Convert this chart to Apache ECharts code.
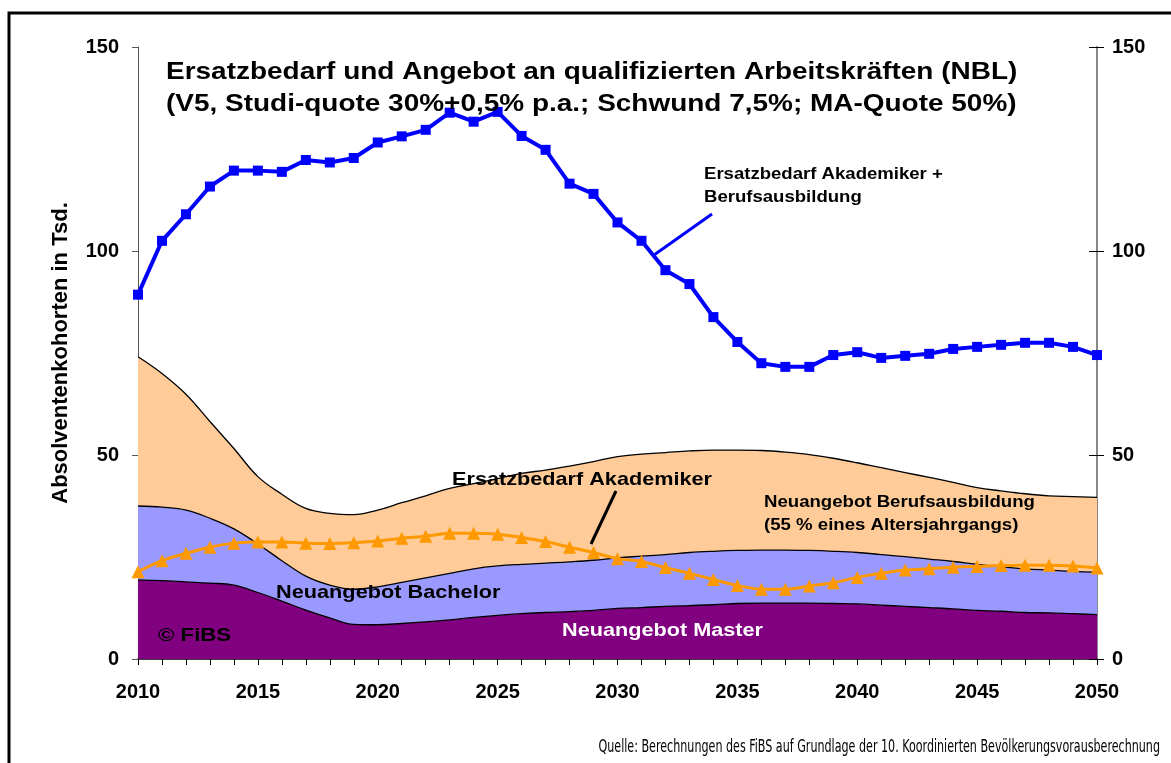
<!DOCTYPE html>
<html>
<head>
<meta charset="utf-8">
<script src="https://cdn.jsdelivr.net/npm/echarts@6/dist/echarts.min.js"></script>
<style>
  html, body { margin: 0; padding: 0; background: #fff; }
  #chart { width: 1171px; height: 763px; }
</style>
</head>
<body>
<div id="chart"></div>
<script>
// Jahre
const years = ['2010','2011','2012','2013','2014','2015','2016','2017','2018','2019',
  '2020','2021','2022','2023','2024','2025','2026','2027','2028','2029',
  '2030','2031','2032','2033','2034','2035','2036','2037','2038','2039',
  '2040','2041','2042','2043','2044','2045','2046','2047','2048','2049','2050'];

// Neuangebot Master (unterste Fläche)
const master = [19.4, 19.2, 18.9, 18.6, 18.1, 16.3, 14.2, 12.0, 10.1, 8.5,
  8.4, 8.7, 9.1, 9.6, 10.2, 10.7, 11.1, 11.4, 11.6, 11.9,
  12.4, 12.6, 12.9, 13.1, 13.3, 13.6, 13.7, 13.7, 13.7, 13.6,
  13.5, 13.2, 12.9, 12.6, 12.3, 11.9, 11.7, 11.4, 11.3, 11.1, 10.9];

// Neuangebot Bachelor (gestapelt)
const bachelor = [18.1, 18.0, 17.6, 15.9, 13.8, 11.9, 9.9, 8.3, 8.0, 8.6,
  9.3, 10.1, 10.8, 11.4, 11.9, 12.1, 12.1, 12.1, 12.2, 12.3,
  12.4, 12.6, 12.7, 13.0, 13.1, 13.0, 13.0, 13.0, 12.9, 12.8,
  12.6, 12.4, 12.2, 11.9, 11.6, 11.3, 10.9, 10.7, 10.5, 10.4, 10.4];

// Neuangebot Berufsausbildung (gestapelt)
const berufsausbildung = [36.6, 32.8, 28.4, 23.7, 19.7, 16.5, 16.3, 16.6, 17.6, 18.3,
  18.8, 19.5, 20.1, 20.8, 20.9, 21.4, 22.3, 22.8, 23.5, 24.2,
  24.8, 25.0, 25.0, 24.9, 24.8, 24.6, 24.4, 24.0, 23.5, 22.8,
  22.0, 21.3, 20.6, 20.0, 19.4, 18.8, 18.6, 18.4, 18.2, 18.3, 18.3];

// Ersatzbedarf Akademiker
const ersatzAkademiker = [21.4, 24.1, 25.9, 27.4, 28.4, 28.7, 28.7, 28.4, 28.3, 28.5,
  28.9, 29.6, 30.1, 30.8, 30.8, 30.6, 29.8, 28.8, 27.4, 26.1,
  24.6, 23.9, 22.4, 21.0, 19.5, 18.0, 17.1, 17.1, 17.9, 18.7,
  20.0, 21.0, 21.8, 22.1, 22.5, 22.7, 22.9, 23.0, 23.0, 22.8, 22.3];

// Ersatzbedarf Akademiker + Berufsausbildung
const ersatzGesamt = [89.3, 102.5, 109.0, 115.8, 119.7, 119.7, 119.4, 122.3, 121.7, 122.8,
  126.6, 128.1, 129.7, 133.9, 131.7, 134.1, 128.2, 124.8, 116.5, 114.0,
  107.0, 102.5, 95.3, 91.9, 83.8, 77.7, 72.5, 71.6, 71.6, 74.5,
  75.2, 73.8, 74.3, 74.8, 76.0, 76.5, 77.0, 77.5, 77.5, 76.5, 74.5];

const yTicks = [0, 50, 100, 150];

const FONT = '"Liberation Sans", Arial, sans-serif';
const tickLabel = { fontFamily: FONT, fontWeight: 'bold', fontSize: 20, color: '#000' };

const chart = echarts.init(document.getElementById('chart'));

const areaSeries = (name, data, color) => ({
  name: name,
  type: 'line',
  stack: 'angebot',
  data: data,
  smooth: 0.4,
  showSymbol: false,
  symbol: 'none',
  lineStyle: { color: '#000', width: 1.3 },
  areaStyle: { color: color, opacity: 1 },
  z: 2
});

// Texte im Bild sind in der Vorlage etwas breit gezogen -> scaleX
const txt = (x, y, text, size, sx, color, extra) => ({
  type: 'text', x: x, y: y, z: 20, scaleX: sx,
  style: Object.assign({
    text: text, fill: color || '#000', fontFamily: FONT, fontWeight: 'bold',
    fontSize: size, textVerticalAlign: 'middle'
  }, extra || {})
});

const option = {
  animation: false,
  backgroundColor: '#fff',
  grid: { left: 138, right: 74, top: 47, bottom: 104 },
  xAxis: {
    type: 'category',
    data: years,
    boundaryGap: false,
    axisLine: { lineStyle: { color: '#000', width: 1.5 } },
    axisTick: { show: true, interval: 0, length: 6, lineStyle: { color: '#000' } },
    axisLabel: Object.assign({ interval: 4, margin: 23 }, tickLabel),
    splitLine: { show: false }
  },
  yAxis: [
    {
      type: 'value', min: 0, max: yTicks[yTicks.length - 1], interval: 50,
      position: 'left',
      name: 'Absolventenkohorten in Tsd.',
      nameLocation: 'middle',
      nameGap: 66,
      nameRotate: 90,
      nameTextStyle: { fontFamily: FONT, fontWeight: 'bold', fontSize: 22, color: '#000' },
      axisLine: { show: true, lineStyle: { color: '#555', width: 1 } },
      axisTick: { show: true, length: 6, lineStyle: { color: '#555' } },
      axisLabel: Object.assign({ margin: 19 }, tickLabel),
      splitLine: { show: false }
    },
    {
      type: 'value', min: 0, max: yTicks[yTicks.length - 1], interval: 50,
      position: 'right',
      axisLine: { show: true, lineStyle: { color: '#888', width: 2 } },
      axisTick: { show: true, length: 7, lineStyle: { color: '#000' } },
      axisLabel: Object.assign({ margin: 15 }, tickLabel),
      splitLine: { show: false }
    },
    {
      type: 'value', min: 0, max: yTicks[yTicks.length - 1], interval: 50,
      position: 'right',
      axisLine: { show: false },
      axisTick: { show: true, inside: true, length: 8, lineStyle: { color: '#000' } },
      axisLabel: { show: false },
      splitLine: { show: false }
    }
  ],
  series: [
    areaSeries('Neuangebot Master', master, '#800080'),
    areaSeries('Neuangebot Bachelor', bachelor, '#9999FF'),
    areaSeries('Neuangebot Berufsausbildung', berufsausbildung, '#FFCC99'),
    {
      name: 'Ersatzbedarf Akademiker',
      type: 'line',
      data: ersatzAkademiker,
      smooth: 0.3,
      symbol: 'triangle',
      symbolSize: 13,
      lineStyle: { color: '#FF9900', width: 3 },
      itemStyle: { color: '#FF9900' },
      z: 5
    },
    {
      name: 'Ersatzbedarf Akademiker + Berufsausbildung',
      type: 'line',
      data: ersatzGesamt,
      symbol: 'rect',
      symbolSize: 10,
      lineStyle: { color: '#0000FF', width: 4 },
      itemStyle: { color: '#0000FF' },
      z: 6
    }
  ],
  graphic: [
    // Rahmen
    { type: 'rect', shape: { x: 9, y: 13, width: 1200, height: 800 }, z: 30,
      style: { fill: null, stroke: '#000', lineWidth: 3 } },
    txt(166, 72, 'Ersatzbedarf und Angebot an qualifizierten Arbeitskräften (NBL)', 24, 1.165),
    txt(166, 104, '(V5, Studi-quote 30%+0,5% p.a.; Schwund 7,5%; MA-Quote 50%)', 24, 1.165),
    txt(704, 175, 'Ersatzbedarf Akademiker +', 16, 1.16),
    txt(704, 198, 'Berufsausbildung', 16, 1.16),
    { type: 'line', shape: { x1: 712, y1: 214, x2: 654, y2: 255 }, z: 20,
      style: { stroke: '#0000FF', lineWidth: 3 } },
    txt(452, 480, 'Ersatzbedarf Akademiker', 19, 1.14),
    { type: 'line', shape: { x1: 616, y1: 491, x2: 591, y2: 544 }, z: 20,
      style: { stroke: '#000', lineWidth: 3 } },
    txt(764, 503, 'Neuangebot Berufsausbildung', 16, 1.163),
    txt(764, 526, '(55 % eines Altersjahrgangs)', 16, 1.163),
    txt(276, 593, 'Neuangebot Bachelor', 19, 1.143),
    txt(562, 631, 'Neuangebot Master', 19, 1.14, '#fff'),
    txt(158, 636, '© FiBS', 19, 1.17),
    txt(1160, 748, 'Quelle: Berechnungen des FiBS auf Grundlage der 10. Koordinierten Bevölkerungsvorausberechnung', 17, 0.728, '#000',
      { fontWeight: 'normal', fontFamily: '"Liberation Sans Narrow", "DejaVu Sans Condensed", sans-serif', textAlign: 'right' })
  ]
};

chart.setOption(option);
</script>
</body>
</html>
